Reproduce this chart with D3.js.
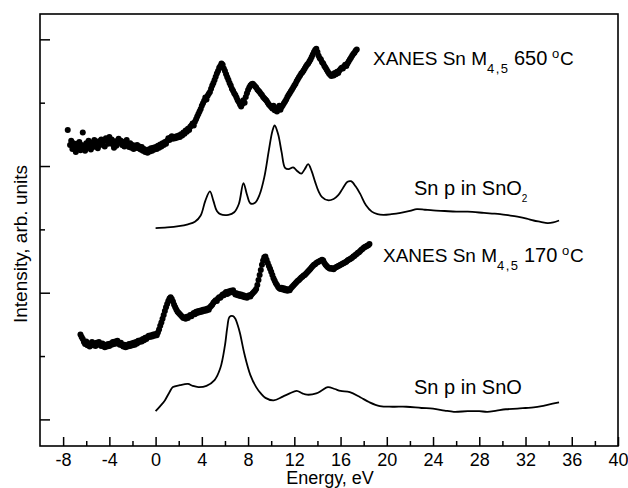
<!DOCTYPE html>
<html>
<head>
<meta charset="utf-8">
<script src="https://cdn.jsdelivr.net/npm/d3@7"></script>
<style>
  body { margin: 0; background: #fff; }
  text { font-family: Arial, "Liberation Sans", sans-serif; fill: #000; }
</style>
</head>
<body>
<svg id="chart" width="628" height="488"></svg>
<script>
// Axis ticks
const xMajorTicks = [-8, -4, 0, 4, 8, 12, 16, 20, 24, 28, 32, 36, 40];
const xMinorTicks = [-6, -2, 2, 6, 10, 14, 18, 22, 26, 30, 34, 38];
const yMajorTicks = [0, 2, 4, 6];
const yMinorTicks = [1, 3, 5];

// XANES Sn M4,5 spectrum, 650 °C (energy eV, intensity arb. units)
const xanes650 = [
  [-7.6,4.57],[-7.4,4.33],[-7.3,4.40],[-7.2,4.27],[-7.1,4.36],[-7.0,4.30],[-6.9,4.22],[-6.8,4.35],
  [-6.7,4.28],[-6.6,4.38],[-6.5,4.25],[-6.4,4.33],[-6.3,4.53],[-6.2,4.30],[-6.1,4.24],[-6.0,4.36],
  [-5.9,4.29],[-5.8,4.40],[-5.7,4.32],[-5.6,4.26],[-5.5,4.37],[-5.4,4.30],[-5.3,4.41],[-5.2,4.34],
  [-5.1,4.38],[-5.0,4.28],[-4.9,4.39],[-4.8,4.33],[-4.7,4.42],[-4.6,4.36],[-4.5,4.40],[-4.4,4.31],
  [-4.3,4.44],[-4.2,4.40],[-4.1,4.35],[-4.0,4.46],[-3.9,4.38],[-3.8,4.42],[-3.7,4.34],[-3.6,4.29],
  [-3.5,4.39],[-3.4,4.32],[-3.3,4.36],[-3.2,4.43],[-3.1,4.37],[-3.0,4.40],[-2.9,4.33],[-2.8,4.38],
  [-2.7,4.31],[-2.6,4.35],[-2.5,4.41],[-2.4,4.34],[-2.3,4.30],[-2.2,4.36],[-2.1,4.29],[-2.0,4.33],
  [-1.9,4.27],[-1.8,4.32],[-1.7,4.29],[-1.6,4.33],[-1.5,4.28],[-1.4,4.31],[-1.3,4.26],[-1.2,4.30],
  [-1.1,4.24],[-1.0,4.27],[-0.9,4.22],[-0.8,4.25],[-0.7,4.21],[-0.6,4.26],[-0.5,4.23],[-0.4,4.28],
  [-0.3,4.24],[-0.2,4.29],[-0.1,4.26],[0.0,4.30],[0.1,4.27],[0.2,4.32],[0.3,4.29],[0.4,4.34],
  [0.5,4.31],[0.6,4.36],[0.7,4.33],[0.8,4.38],[0.9,4.35],[1.0,4.40],[1.1,4.44],[1.2,4.41],
  [1.3,4.45],[1.4,4.47],[1.5,4.43],[1.6,4.46],[1.7,4.44],[1.8,4.47],[1.9,4.45],[2.0,4.48],
  [2.1,4.46],[2.2,4.50],[2.3,4.48],[2.4,4.53],[2.5,4.51],[2.6,4.56],[2.7,4.54],[2.8,4.59],
  [2.9,4.57],[3.0,4.62],[3.1,4.64],[3.2,4.67],[3.3,4.64],[3.4,4.70],[3.5,4.74],[3.6,4.78],
  [3.7,4.82],[3.8,4.86],[3.9,4.90],[4.0,4.95],[4.1,4.99],[4.2,5.03],[4.3,5.08],[4.4,5.05],
  [4.5,5.11],[4.6,5.14],[4.7,5.17],[4.8,5.22],[4.9,5.27],[5.0,5.31],[5.1,5.36],[5.2,5.41],
  [5.3,5.46],[5.4,5.50],[5.5,5.55],[5.6,5.58],[5.7,5.62],[5.8,5.60],[5.9,5.54],[6.0,5.50],
  [6.1,5.45],[6.2,5.40],[6.3,5.36],[6.4,5.31],[6.5,5.27],[6.6,5.22],[6.7,5.19],[6.8,5.15],
  [6.9,5.12],[7.0,5.08],[7.1,5.04],[7.2,5.01],[7.3,4.97],[7.4,4.94],[7.5,4.98],[7.6,5.04],
  [7.7,5.00],[7.8,5.09],[7.9,5.15],[8.0,5.20],[8.1,5.24],[8.2,5.27],[8.3,5.29],[8.4,5.30],
  [8.5,5.28],[8.6,5.26],[8.7,5.24],[8.8,5.21],[8.9,5.19],[9.0,5.17],[9.1,5.14],[9.2,5.12],
  [9.3,5.09],[9.4,5.07],[9.5,5.05],[9.6,5.03],[9.7,5.00],[9.8,4.97],[9.9,4.95],[10.0,4.93],
  [10.1,4.91],[10.2,4.95],[10.3,4.88],[10.4,4.90],[10.5,4.86],[10.6,4.92],[10.7,4.95],[10.8,4.89],
  [10.9,4.93],[11.0,4.96],[11.1,4.99],[11.2,5.02],[11.3,5.05],[11.4,5.09],[11.5,5.12],[11.6,5.15],
  [11.7,5.18],[11.8,5.21],[11.9,5.24],[12.0,5.27],[12.1,5.30],[12.2,5.34],[12.3,5.37],[12.4,5.40],
  [12.5,5.43],[12.6,5.46],[12.7,5.48],[12.8,5.51],[12.9,5.54],[13.0,5.57],[13.1,5.60],[13.2,5.62],
  [13.3,5.65],[13.4,5.68],[13.5,5.72],[13.6,5.76],[13.7,5.80],[13.8,5.83],[13.9,5.85],[14.0,5.80],
  [14.1,5.74],[14.2,5.70],[14.3,5.68],[14.4,5.64],[14.5,5.62],[14.6,5.58],[14.7,5.55],[14.8,5.52],
  [14.9,5.49],[15.0,5.46],[15.1,5.44],[15.2,5.42],[15.3,5.45],[15.4,5.43],[15.5,5.47],[15.6,5.45],
  [15.7,5.49],[15.8,5.47],[15.9,5.51],[16.0,5.53],[16.1,5.55],[16.2,5.54],[16.3,5.57],[16.4,5.60],
  [16.5,5.58],[16.6,5.62],[16.7,5.65],[16.8,5.68],[16.9,5.71],[17.0,5.74],[17.1,5.77],[17.2,5.79],
  [17.3,5.82],[17.4,5.84]
];

// Calculated Sn p partial density of states in SnO2
const snpSnO2 = [
  [0.0,3.02],[1.0,3.03],[2.0,3.05],[2.8,3.08],[3.4,3.12],[3.9,3.22],[4.3,3.45],[4.7,3.60],
  [5.0,3.45],[5.3,3.29],[5.6,3.24],[6.3,3.23],[6.8,3.27],[7.2,3.40],[7.6,3.73],[7.9,3.55],
  [8.2,3.41],[8.6,3.42],[9.0,3.55],[9.4,3.82],[9.8,4.25],[10.1,4.55],[10.3,4.64],[10.6,4.50],
  [10.9,4.22],[11.2,3.97],[11.5,3.95],[11.9,3.98],[12.2,3.93],[12.6,3.88],[12.9,3.95],[13.2,4.03],
  [13.5,3.92],[13.8,3.75],[14.1,3.60],[14.4,3.51],[14.9,3.46],[15.4,3.48],[15.8,3.54],[16.2,3.65],
  [16.6,3.75],[16.9,3.76],[17.3,3.68],[17.7,3.56],[18.2,3.38],[18.7,3.28],[19.2,3.24],[19.7,3.23],
  [20.4,3.24],[21.2,3.26],[22.0,3.29],[22.6,3.32],[23.3,3.31],[24.0,3.30],[25.0,3.29],[26.0,3.28],
  [27.0,3.28],[28.4,3.26],[29.1,3.25],[29.8,3.24],[30.6,3.22],[31.3,3.20],[32.1,3.17],[32.7,3.14],
  [33.3,3.12],[33.9,3.10],[34.4,3.11],[34.9,3.14]
];

// XANES Sn M4,5 spectrum, 170 °C
const xanes170 = [
  [-6.5,1.34],[-6.4,1.30],[-6.3,1.27],[-6.2,1.22],[-6.1,1.19],[-6.0,1.23],[-5.9,1.17],[-5.8,1.20],
  [-5.7,1.15],[-5.6,1.19],[-5.5,1.22],[-5.4,1.17],[-5.3,1.20],[-5.2,1.16],[-5.1,1.21],[-5.0,1.18],
  [-4.9,1.22],[-4.8,1.19],[-4.7,1.16],[-4.6,1.20],[-4.5,1.17],[-4.4,1.14],[-4.3,1.18],[-4.2,1.15],
  [-4.1,1.19],[-4.0,1.16],[-3.9,1.20],[-3.8,1.18],[-3.7,1.22],[-3.6,1.19],[-3.5,1.23],[-3.4,1.20],
  [-3.3,1.24],[-3.2,1.21],[-3.1,1.18],[-3.0,1.21],[-2.9,1.17],[-2.8,1.15],[-2.7,1.18],[-2.6,1.14],
  [-2.5,1.17],[-2.4,1.15],[-2.3,1.19],[-2.2,1.16],[-2.1,1.20],[-2.0,1.17],[-1.9,1.21],[-1.8,1.18],
  [-1.7,1.22],[-1.6,1.20],[-1.5,1.24],[-1.4,1.22],[-1.3,1.25],[-1.2,1.23],[-1.1,1.27],[-1.0,1.25],
  [-0.9,1.29],[-0.8,1.27],[-0.7,1.30],[-0.6,1.32],[-0.5,1.30],[-0.4,1.33],[-0.3,1.31],[-0.2,1.34],
  [-0.1,1.32],[0.0,1.35],[0.1,1.33],[0.2,1.37],[0.3,1.42],[0.4,1.48],[0.5,1.53],[0.6,1.59],
  [0.7,1.65],[0.8,1.71],[0.9,1.77],[1.0,1.82],[1.1,1.87],[1.2,1.91],[1.3,1.93],[1.4,1.90],
  [1.5,1.86],[1.6,1.81],[1.7,1.77],[1.8,1.73],[1.9,1.70],[2.0,1.68],[2.1,1.66],[2.2,1.64],
  [2.3,1.62],[2.4,1.60],[2.5,1.61],[2.6,1.59],[2.7,1.62],[2.8,1.60],[2.9,1.63],[3.0,1.65],
  [3.1,1.63],[3.2,1.66],[3.3,1.68],[3.4,1.66],[3.5,1.70],[3.6,1.68],[3.7,1.71],[3.8,1.69],
  [3.9,1.72],[4.0,1.70],[4.1,1.73],[4.2,1.71],[4.3,1.74],[4.4,1.72],[4.5,1.75],[4.6,1.73],
  [4.7,1.77],[4.8,1.79],[4.9,1.81],[5.0,1.84],[5.1,1.86],[5.2,1.88],[5.3,1.87],[5.4,1.91],
  [5.5,1.93],[5.6,1.92],[5.7,1.95],[5.8,1.97],[5.9,1.96],[6.0,1.99],[6.1,2.01],[6.2,1.98],
  [6.3,2.02],[6.4,2.00],[6.5,2.03],[6.6,2.01],[6.7,2.04],[6.8,2.00],[6.9,1.97],[7.0,1.99],
  [7.1,1.96],[7.2,1.98],[7.3,1.95],[7.4,1.97],[7.5,1.94],[7.6,1.96],[7.7,1.93],[7.8,1.95],
  [7.9,1.92],[8.0,1.94],[8.1,1.96],[8.2,1.94],[8.3,1.97],[8.4,1.99],[8.5,2.01],[8.6,2.03],
  [8.7,2.06],[8.8,2.12],[8.9,2.20],[9.0,2.28],[9.1,2.36],[9.2,2.44],[9.3,2.51],[9.4,2.56],
  [9.5,2.57],[9.6,2.52],[9.7,2.47],[9.8,2.42],[9.9,2.38],[10.0,2.33],[10.1,2.28],[10.2,2.23],
  [10.3,2.19],[10.4,2.15],[10.5,2.12],[10.6,2.09],[10.7,2.07],[10.8,2.06],[10.9,2.08],[11.0,2.05],
  [11.1,2.07],[11.2,2.04],[11.3,2.06],[11.4,2.03],[11.5,2.05],[11.6,2.04],[11.7,2.07],[11.8,2.09],
  [11.9,2.11],[12.0,2.13],[12.1,2.15],[12.2,2.17],[12.3,2.19],[12.4,2.20],[12.5,2.22],[12.6,2.24],
  [12.7,2.25],[12.8,2.27],[12.9,2.28],[13.0,2.30],[13.1,2.32],[13.2,2.34],[13.3,2.36],[13.4,2.38],
  [13.5,2.40],[13.6,2.42],[13.7,2.44],[13.8,2.45],[13.9,2.47],[14.0,2.48],[14.1,2.49],[14.2,2.50],
  [14.3,2.51],[14.4,2.52],[14.5,2.51],[14.6,2.47],[14.7,2.44],[14.8,2.42],[14.9,2.40],[15.0,2.39],
  [15.1,2.38],[15.2,2.39],[15.3,2.38],[15.4,2.37],[15.5,2.39],[15.6,2.40],[15.7,2.41],[15.8,2.42],
  [15.9,2.43],[16.0,2.44],[16.1,2.45],[16.2,2.46],[16.3,2.47],[16.4,2.48],[16.5,2.49],[16.6,2.51],
  [16.7,2.52],[16.8,2.53],[16.9,2.54],[17.0,2.55],[17.1,2.57],[17.2,2.58],[17.3,2.60],[17.4,2.61],
  [17.5,2.63],[17.6,2.64],[17.7,2.66],[17.8,2.68],[17.9,2.69],[18.0,2.71],[18.1,2.72],[18.2,2.73],
  [18.3,2.74],[18.4,2.75],[18.5,2.77]
];

// Calculated Sn p partial density of states in SnO
const snpSnO = [
  [0.0,0.13],[0.4,0.21],[0.8,0.30],[1.2,0.43],[1.5,0.51],[2.1,0.54],[2.8,0.56],[3.2,0.53],
  [3.7,0.51],[4.4,0.53],[5.1,0.62],[5.6,0.81],[6.0,1.17],[6.2,1.45],[6.4,1.62],[6.7,1.63],
  [6.9,1.59],[7.1,1.49],[7.3,1.36],[7.7,1.02],[8.2,0.70],[8.7,0.51],[9.1,0.41],[9.5,0.34],
  [10.2,0.30],[11.0,0.36],[11.6,0.41],[12.2,0.45],[12.7,0.41],[13.1,0.39],[13.9,0.41],[14.4,0.46],
  [14.9,0.51],[15.5,0.48],[16.0,0.45],[16.8,0.43],[17.7,0.35],[18.5,0.27],[19.4,0.21],[20.5,0.20],
  [21.7,0.20],[23.0,0.18],[24.0,0.17],[25.0,0.14],[25.8,0.12],[27.0,0.13],[28.0,0.13],[28.7,0.12],
  [29.5,0.14],[30.3,0.16],[31.3,0.17],[32.0,0.18],[32.7,0.19],[33.4,0.21],[33.9,0.23],[34.9,0.27]
];

const svg = d3.select("#chart");
const W = 628, H = 488;
const margin = { left: 40, right: 10, top: 14, bottom: 42 };

const x = d3.scaleLinear().domain([-10, 40]).range([margin.left, W - margin.right]);
const y = d3.scaleLinear().domain([-0.42, 6.4]).range([H - margin.bottom, margin.top]);

const plotBottom = H - margin.bottom;

// Bottom axis: labelled major ticks and short minor ticks pointing inward
const gx = svg.append("g").attr("transform", `translate(0,${plotBottom})`);
gx.call(d3.axisBottom(x).tickValues(xMajorTicks).tickSize(-9).tickSizeOuter(0)
  .tickPadding(7).tickFormat(d => String(d)));
gx.append("g").call(d3.axisBottom(x).tickValues(xMinorTicks).tickSize(-5)
  .tickSizeOuter(0).tickFormat(""));
gx.selectAll(".domain").remove();
gx.selectAll("line").attr("stroke", "#000").attr("stroke-width", 1.5);
gx.selectAll("text").attr("font-size", 18).attr("font-family", "Arial, 'Liberation Sans', sans-serif");

// Left axis: unlabelled ticks pointing inward
const gy = svg.append("g").attr("transform", `translate(${margin.left},0)`);
gy.call(d3.axisLeft(y).tickValues(yMajorTicks).tickSize(-10).tickSizeOuter(0).tickFormat(""));
gy.append("g").call(d3.axisLeft(y).tickValues(yMinorTicks).tickSize(-5).tickSizeOuter(0).tickFormat(""));
gy.selectAll(".domain").remove();
gy.selectAll("line").attr("stroke", "#000").attr("stroke-width", 1.5);

// Plot frame
svg.append("rect")
  .attr("x", x.range()[0]).attr("y", y.range()[1])
  .attr("width", x.range()[1] - x.range()[0])
  .attr("height", y.range()[0] - y.range()[1])
  .attr("fill", "none").attr("stroke", "#000").attr("stroke-width", 1.6);

// Calculated curves as smooth lines
const line = d3.line()
  .x(d => x(d[0])).y(d => y(d[1]))
  .curve(d3.curveCatmullRom.alpha(0.5));

[snpSnO2, snpSnO].forEach(series => {
  svg.append("path").datum(series)
    .attr("d", line)
    .attr("fill", "none").attr("stroke", "#000")
    .attr("stroke-width", 1.8).attr("stroke-linejoin", "round");
});

// Measured spectra as filled dots
[xanes650, xanes170].forEach(series => {
  svg.append("g").selectAll("circle").data(series).join("circle")
    .attr("cx", d => x(d[0])).attr("cy", d => y(d[1]))
    .attr("r", 3).attr("fill", "#000");
});

// Curve annotations: main text, subscript, temperature, degree sign, unit
function xanesLabel(px, py, temp) {
  const t = svg.append("text").attr("y", py).attr("font-size", 19);
  t.append("tspan").attr("x", px).text("XANES Sn M");
  t.append("tspan").attr("x", px + 114).attr("y", py + 8).attr("font-size", 13)
    .attr("letter-spacing", 1.5).text("4,5");
  t.append("tspan").attr("x", px + 141).attr("y", py).attr("font-size", 20).text(temp);
  t.append("tspan").attr("x", px + 179).attr("y", py - 7).attr("font-size", 13).text("o");
  t.append("tspan").attr("x", px + 187).attr("y", py).text("C");
}
xanesLabel(373, 65, "650");
xanesLabel(383, 262, "170");

const lbl2 = svg.append("text").attr("x", 414).attr("y", 195).attr("font-size", 20);
lbl2.append("tspan").text("Sn p in SnO");
lbl2.append("tspan").attr("font-size", 10).attr("dy", 7).text("2");

svg.append("text").attr("x", 414).attr("y", 394).attr("font-size", 20).text("Sn p in SnO");

// Axis titles
svg.append("text")
  .attr("transform", "translate(27,244) rotate(-90)")
  .attr("text-anchor", "middle").attr("font-size", 19)
  .text("Intensity, arb. units");

svg.append("text")
  .attr("x", 330).attr("y", 484)
  .attr("text-anchor", "middle").attr("font-size", 18)
  .text("Energy, eV");
</script>
</body>
</html>
